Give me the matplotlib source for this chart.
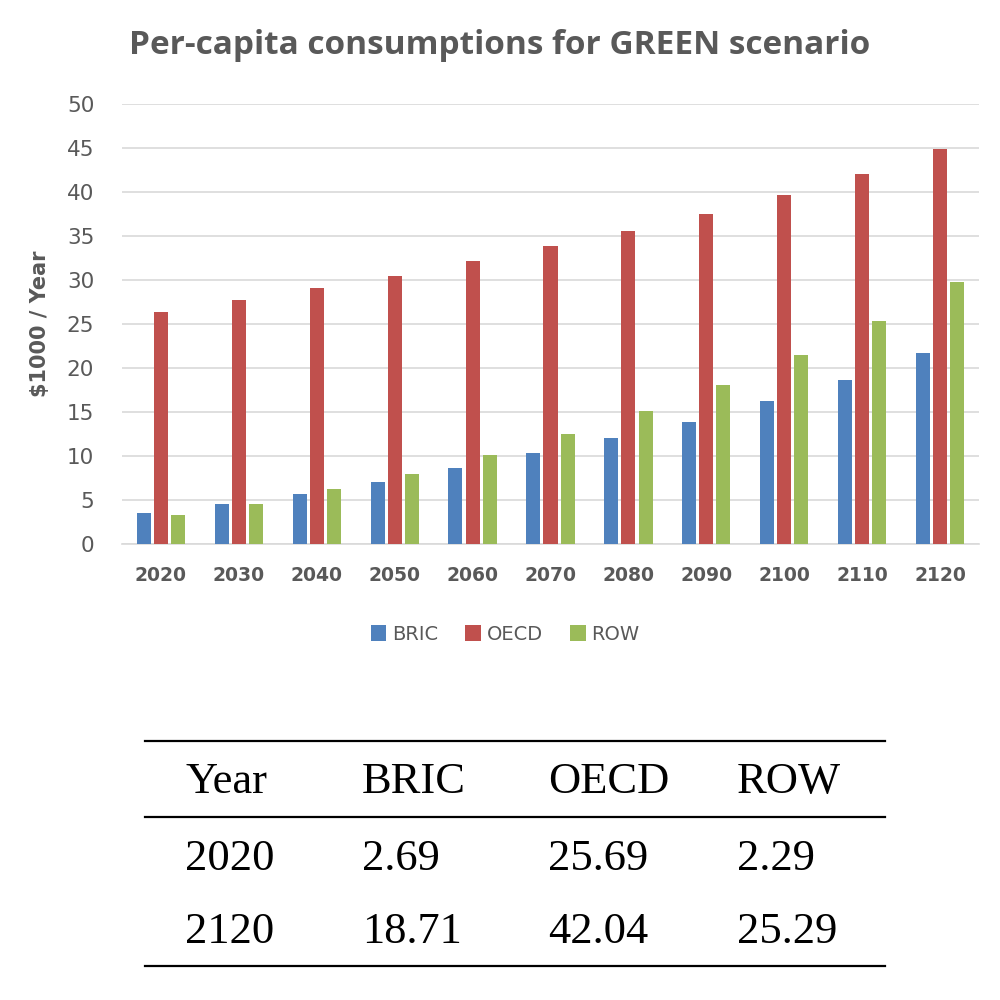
import numpy as np
import matplotlib
matplotlib.use("Agg")
import matplotlib.pyplot as plt

years = ["2020", "2030", "2040", "2050", "2060", "2070", "2080", "2090", "2100", "2110", "2120"]
bric = [3.5, 4.5, 5.7, 7.1, 8.6, 10.3, 12.0, 13.9, 16.2, 18.6, 21.7]
oecd = [26.4, 27.7, 29.05, 30.5, 32.2, 33.9, 35.6, 37.5, 39.7, 42.0, 44.9]
row = [3.3, 4.6, 6.2, 8.0, 10.1, 12.5, 15.1, 18.1, 21.5, 25.3, 29.8]

table_header = ["Year", "BRIC", "OECD", "ROW"]
table_rows = [["2020", "2.69", "25.69", "2.29"],
              ["2120", "18.71", "42.04", "25.29"]]

gray = "#595959"
colors = ["#4F81BD", "#C0504D", "#9BBB59"]

fig = plt.figure(figsize=(10, 10), dpi=100)
ax = fig.add_axes([0.122, 0.456, 0.857, 0.44])

x = np.arange(len(years))
w = 0.18
step = 0.22
for i, (vals, name) in enumerate(zip([bric, oecd, row], ["BRIC", "OECD", "ROW"])):
    ax.bar(x + (i - 1) * step, vals, width=w, color=colors[i], label=name, zorder=3)

ax.set_xlim(-0.5, len(years) - 0.5)
ax.set_ylim(0, 50)
ax.set_yticks(range(0, 51, 5))
ax.grid(axis="y", color="#D9D9D9", linewidth=1.2, zorder=0)
for s in ["top", "right", "left"]:
    ax.spines[s].set_visible(False)
ax.spines["bottom"].set_color("#D9D9D9")
ax.spines["bottom"].set_linewidth(1.2)
ax.tick_params(length=0)
ax.set_xticks(x)
ax.set_xticklabels(years, fontsize=13.5, fontweight="bold", color=gray)
ax.tick_params(axis="x", pad=16)
ax.tick_params(axis="y", pad=20, labelsize=15.5, labelcolor=gray)
ax.set_ylabel("$1000 / Year", fontsize=15, fontweight="bold", color=gray, labelpad=12)

fig.text(0.5, 0.955, "Per-capita consumptions for GREEN scenario", ha="center", va="center",
         fontsize=24, fontweight="bold", color=gray, family="Open Sans")

ax.legend(loc="center", bbox_to_anchor=((0.505 - 0.122) / 0.857, -0.205),
          ncol=3, frameon=False, fontsize=14, labelcolor=gray, handlelength=0.8,
          handleheight=0.9, handletextpad=0.3, columnspacing=1.4)

# table below the chart
tab = fig.add_axes([0, 0, 1, 1], facecolor="none")
tab.set_xlim(0, 1000)
tab.set_ylim(1000, 0)
tab.axis("off")
for yl in [741, 817, 966]:
    tab.plot([145, 885], [yl, yl], color="black", linewidth=1.6)
col_x = [185, 362, 548, 737]
row_y = [793, 870, 943]
for j, txt in enumerate(table_header):
    tab.text(col_x[j], row_y[0], txt, fontsize=32, family="Liberation Serif", va="baseline")
for r, vals in enumerate(table_rows):
    for j, txt in enumerate(vals):
        tab.text(col_x[j], row_y[r + 1], txt, fontsize=32, family="Liberation Serif", va="baseline")

fig.savefig("out.png", dpi=100, facecolor="white")
